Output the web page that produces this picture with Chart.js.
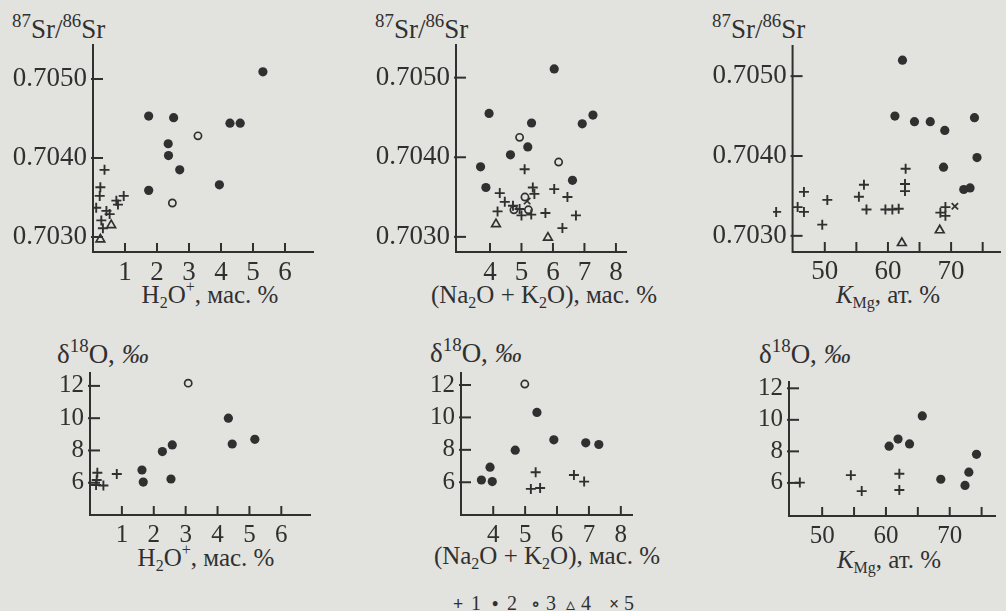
<!DOCTYPE html>
<html>
<head>
<meta charset="utf-8">
<script src="https://cdn.jsdelivr.net/npm/chart.js@4.4.1/dist/chart.umd.min.js"></script>
<style>
  html, body { margin: 0; padding: 0; }
  body { width: 1006px; height: 611px; background: #e2e2df; position: relative; overflow: hidden;
         font-family: 'Liberation Serif', 'DejaVu Serif', serif; color: #303030; }
  canvas { position: absolute; }
  .t { position: absolute; font-size: 25px; line-height: 25px; white-space: nowrap; }
  .big { font-size: 27px; }
  .c { transform: translateX(-50%); }
  .sp { font-size: 0.64em; position: relative; top: -0.7em; }
  .big .sp { font-size: 0.7em; top: -0.6em; }
  .sb { font-size: 0.64em; position: relative; top: 0.3em; }
  .lg { position: absolute; top: 593px; font-size: 20px; line-height: 20px; }
  .lg b { font-size: 18px; }
</style>
</head>
<body>
<div class="t big" style="left:12px; top:17px"><span class="sp">87</span>Sr/<span class="sp">86</span>Sr</div>
<div class="t big" style="left:375px; top:17px"><span class="sp">87</span>Sr/<span class="sp">86</span>Sr</div>
<div class="t big" style="left:712px; top:17px"><span class="sp">87</span>Sr/<span class="sp">86</span>Sr</div>
<div class="t c" style="left:210px; top:282px">H<span class="sb">2</span>O<span class="sp">+</span>, мас. %</div>
<div class="t c" style="left:544px; top:282px">(Na<span class="sb">2</span>O + K<span class="sb">2</span>O), мас. %</div>
<div class="t c" style="left:888px; top:282px"><i>K</i><span class="sb">Mg</span>, ат. %</div>

<div class="t big" style="left:57px; top:342px">δ<span class="sp">18</span>O, <i>‰</i></div>
<div class="t big" style="left:430px; top:341px">δ<span class="sp">18</span>O, <i>‰</i></div>
<div class="t big" style="left:759px; top:342px">δ<span class="sp">18</span>O, <i>‰</i></div>
<div class="t c" style="left:206px; top:545px">H<span class="sb">2</span>O<span class="sp">+</span>, мас. %</div>
<div class="t c" style="left:547px; top:543px">(Na<span class="sb">2</span>O + K<span class="sb">2</span>O), мас. %</div>
<div class="t c" style="left:889px; top:547px"><i>K</i><span class="sb">Mg</span>, ат. %</div>

<div class="lg" style="left:453px"><b>+</b></div><div class="lg" style="left:471px">1</div>
<div class="lg" style="left:492px"><b>•</b></div><div class="lg" style="left:507px">2</div>
<div class="lg" style="left:531px"><b>∘</b></div><div class="lg" style="left:546px">3</div>
<div class="lg" style="left:566px"><b>▵</b></div><div class="lg" style="left:581px">4</div>
<div class="lg" style="left:609px"><b>×</b></div><div class="lg" style="left:624px">5</div>

<canvas id="p1"></canvas>
<canvas id="p2"></canvas>
<canvas id="p3"></canvas>
<canvas id="p4"></canvas>
<canvas id="p5"></canvas>
<canvas id="p6"></canvas>

<script>
// tick values
const srTicks = [0.7030, 0.7040, 0.7050];
const d18Ticks = [6, 8, 10, 12];
const h2oTicks = [1, 2, 3, 4, 5, 6];
const alkTicks = [4, 5, 6, 7, 8];
const kmgTicks = [50, 55, 60, 65, 70, 75];

// 87Sr/86Sr vs H2O+
const srH2O_1 = [[0.36,0.70385],[0.23,0.70363],[0.21,0.70352],[0.96,0.70352],[0.73,0.70346],[0.78,0.70341],
  [0.10,0.70337],[0.42,0.70333],[0.52,0.70329],[0.26,0.70321],[0.31,0.70311]];
const srH2O_2 = [[5.31,0.70509],[1.74,0.70453],[2.52,0.70451],[2.35,0.70418],[2.36,0.70403],[2.71,0.70385],
  [1.74,0.70359],[3.95,0.70366],[4.28,0.70444],[4.60,0.70444]];
const srH2O_3 = [[3.28,0.70428],[2.48,0.70343]];
const srH2O_4 = [[0.57,0.70315],[0.23,0.70297]];

// 87Sr/86Sr vs Na2O+K2O
const srAlk_1 = [[5.10,0.70385],[5.36,0.70362],[5.41,0.70354],[6.04,0.70360],[6.46,0.70350],[4.31,0.70355],
  [4.47,0.70344],[4.24,0.70332],[4.73,0.70339],[4.94,0.70335],[5.00,0.70327],[5.31,0.70328],
  [5.76,0.70330],[6.73,0.70327],[6.30,0.70311]];
const srAlk_2 = [[6.04,0.70511],[3.97,0.70455],[5.32,0.70443],[6.93,0.70442],[7.27,0.70453],[5.20,0.70413],
  [4.65,0.70403],[3.70,0.70388],[3.87,0.70362],[6.62,0.70371]];
const srAlk_3 = [[4.94,0.70425],[6.18,0.70394],[5.11,0.70350],[4.76,0.70334],[5.22,0.70334]];
const srAlk_4 = [[4.19,0.70316],[5.84,0.70299]];
const srAlk_5 = [[5.18,0.70345]];

// 87Sr/86Sr vs KMg (first cross lies left of the axis in the original)
const srKmg_1 = [[42.3,0.70330],[45.7,0.70336],[46.7,0.70330],[46.7,0.70355],[50.4,0.70345],[49.6,0.70314],
  [55.4,0.70349],[56.2,0.70364],[56.6,0.70333],[59.6,0.70333],[60.7,0.70333],[61.7,0.70334],
  [62.8,0.70384],[62.7,0.70365],[62.7,0.70356],[68.3,0.70329],[69.1,0.70336],[69.1,0.70325]];
const srKmg_2 = [[62.3,0.70520],[61.1,0.70450],[64.2,0.70443],[66.7,0.70443],[69.0,0.70432],[73.7,0.70448],
  [74.1,0.70398],[68.8,0.70386],[72.0,0.70358],[73.0,0.70360]];
const srKmg_4 = [[62.2,0.70291],[68.2,0.70307]];
const srKmg_5 = [[70.6,0.70337]];

// d18O vs H2O+
const oH2O_1 = [[0.23,6.62],[0.84,6.54],[0.21,6.17],[0.19,5.86],[0.42,5.83]];
const oH2O_2 = [[4.34,10.0],[4.46,8.4],[5.17,8.69],[2.27,7.93],[2.58,8.34],[1.63,6.79],[1.67,6.04],[2.54,6.23]];
const oH2O_3 = [[3.08,12.17]];

// d18O vs Na2O+K2O
const oAlk_1 = [[5.33,6.62],[5.18,5.59],[5.47,5.65],[6.53,6.45],[6.85,6.04]];
const oAlk_2 = [[5.37,10.31],[5.90,8.62],[6.90,8.43],[7.31,8.33],[4.69,7.98],[3.90,6.93],[3.63,6.14],[3.97,6.04]];
const oAlk_3 = [[4.99,12.06]];

// d18O vs KMg
const oKmg_1 = [[46.5,6.02],[54.5,6.49],[56.2,5.48],[62.1,6.58],[62.1,5.55]];
const oKmg_2 = [[65.7,10.25],[60.5,8.33],[61.9,8.78],[63.7,8.47],[74.2,7.81],[73.0,6.68],[68.6,6.23],[72.4,5.84]];

const INK = '#303030';
const BG = '#e2e2df';
const FONT = "'Liberation Serif', 'DejaVu Serif', serif";

const styles = {
  cross: { pointStyle: 'cross', pointRadius: 5, borderWidth: 1.9, borderColor: INK },
  dot:   { pointStyle: 'circle', pointRadius: 4.6, backgroundColor: INK, borderColor: INK, borderWidth: 0 },
  ring:  { pointStyle: 'circle', pointRadius: 3.6, backgroundColor: BG, borderColor: INK, borderWidth: 1.7 },
  tri:   { pointStyle: 'triangle', pointRadius: 5, backgroundColor: 'rgba(0,0,0,0)', borderColor: INK, borderWidth: 1.7 },
  xmark: { pointStyle: 'crossRot', pointRadius: 4.5, borderWidth: 1.7, borderColor: INK }
};

// inward tick marks; when yAxisAt is given the two axis lines are drawn here too
function makeAxes(yAxisAt) {
  return {
    id: 'inwardTicks',
    afterDraw(chart) {
      const ctx = chart.ctx;
      const a = chart.chartArea;
      const xs = chart.scales.x;
      const ax = yAxisAt != null ? xs.getPixelForValue(yAxisAt) : a.left;
      ctx.save();
      ctx.strokeStyle = INK;
      ctx.lineWidth = 2;
      if (yAxisAt != null) {
        ctx.beginPath();
        ctx.moveTo(ax, a.top); ctx.lineTo(ax, a.bottom + 1); ctx.lineTo(a.right, a.bottom + 1);
        ctx.stroke();
      }
      Object.values(chart.scales).forEach(sc => {
        sc.ticks.forEach(t => {
          const p = sc.getPixelForValue(t.value);
          ctx.beginPath();
          if (sc.isHorizontal()) {
            ctx.moveTo(p, a.bottom); ctx.lineTo(p, a.bottom - 9);
          } else {
            ctx.moveTo(ax - 2, p); ctx.lineTo(ax + 10, p);
          }
          ctx.stroke();
        });
      });
      ctx.restore();
    }
  };
}

function panel(id, box, xr, yr, xTicks, yTicks, xFmt, yFmt, fontSize, series, yAxisAt) {
  const yW = box.yW, xH = 45, padT = 10, padR = 4;
  const cv = document.getElementById(id);
  const left = box.L - yW, top = box.T - padT;
  const w = box.R - left + padR, h = box.B - top + xH;
  cv.style.left = left + 'px';
  cv.style.top = top + 'px';
  cv.width = w; cv.height = h;
  const shifted = yAxisAt != null;
  // distance from chart-area edge to the drawn y axis
  const axisShift = shifted ? (yAxisAt - xr[0]) * (box.R - box.L) / (xr[1] - xr[0]) : 0;
  const labelW = fontSize * 2.75;

  new Chart(cv, {
    type: 'scatter',
    data: {
      datasets: series.map(s => Object.assign({
        data: s.data.map(p => ({ x: p[0], y: p[1] }))
      }, styles[s.style]))
    },
    options: {
      responsive: false,
      animation: false,
      devicePixelRatio: 1,
      layout: { autoPadding: false, padding: { left: 0, top: padT, right: padR, bottom: 0 } },
      plugins: { legend: { display: false }, tooltip: { enabled: false } },
      scales: {
        x: {
          type: 'linear', min: xr[0], max: xr[1],
          afterBuildTicks: s => { s.ticks = xTicks.map(v => ({ value: v })); },
          afterFit: s => { s.height = xH; s.paddingLeft = 0; s.paddingRight = 0; },
          grid: { drawOnChartArea: false, drawTicks: false },
          border: { display: !shifted, color: INK, width: 2 },
          ticks: { color: INK, padding: 5, maxRotation: 0, autoSkip: false,
                   font: { family: FONT, size: fontSize }, callback: xFmt }
        },
        y: {
          type: 'linear', min: yr[0], max: yr[1],
          afterBuildTicks: s => { s.ticks = yTicks.map(v => ({ value: v })); },
          afterFit: s => { s.width = yW; s.paddingTop = 0; s.paddingBottom = 0; },
          grid: { drawOnChartArea: false, drawTicks: false },
          border: { display: !shifted, color: INK, width: 2 },
          ticks: { color: INK, autoSkip: false, mirror: shifted,
                   padding: shifted ? axisShift - 6 - labelW : 6,
                   font: { family: FONT, size: fontSize }, callback: yFmt }
        }
      }
    },
    plugins: [makeAxes(yAxisAt)]
  });
}

const plain = v => String(v);
const sr4 = v => v.toFixed(4);
const kmgFmt = v => (v % 10 === 0 ? String(v) : '');

panel('p1', { L: 93, R: 313, T: 45, B: 252, yW: 90 }, [0, 6.875], [0.70281, 0.70543],
  h2oTicks, srTicks, plain, sr4, 27,
  [{ data: srH2O_1, style: 'cross' }, { data: srH2O_2, style: 'dot' },
   { data: srH2O_3, style: 'ring' }, { data: srH2O_4, style: 'tri' }]);

panel('p2', { L: 456, R: 626, T: 45, B: 252, yW: 90 }, [2.92, 8.32], [0.70281, 0.70541],
  alkTicks, srTicks, plain, sr4, 27,
  [{ data: srAlk_1, style: 'cross' }, { data: srAlk_2, style: 'dot' },
   { data: srAlk_3, style: 'ring' }, { data: srAlk_4, style: 'tri' }, { data: srAlk_5, style: 'xmark' }]);

// x range starts below the axis value so the outlying cross can be drawn
panel('p3', { L: 773.4, R: 1002, T: 45, B: 251, yW: 70 }, [41.8, 77.9], [0.70281, 0.70539],
  kmgTicks, srTicks, kmgFmt, sr4, 27,
  [{ data: srKmg_1, style: 'cross' }, { data: srKmg_2, style: 'dot' },
   { data: srKmg_4, style: 'tri' }, { data: srKmg_5, style: 'xmark' }], 44.9);

panel('p4', { L: 90, R: 310, T: 373, B: 515, yW: 60 }, [0, 6.9], [4.0, 12.8],
  h2oTicks, d18Ticks, plain, plain, 25,
  [{ data: oH2O_1, style: 'cross' }, { data: oH2O_2, style: 'dot' }, { data: oH2O_3, style: 'ring' }]);

panel('p5', { L: 461, R: 632, T: 373, B: 515, yW: 60 }, [2.99, 8.35], [3.98, 12.74],
  alkTicks, d18Ticks, plain, plain, 25,
  [{ data: oAlk_1, style: 'cross' }, { data: oAlk_2, style: 'dot' }, { data: oAlk_3, style: 'ring' }]);

panel('p6', { L: 789, R: 995, T: 382, B: 516, yW: 60 }, [44.8, 77.1], [3.9, 12.4],
  kmgTicks, d18Ticks, kmgFmt, plain, 25,
  [{ data: oKmg_1, style: 'cross' }, { data: oKmg_2, style: 'dot' }]);
</script>
</body>
</html>
